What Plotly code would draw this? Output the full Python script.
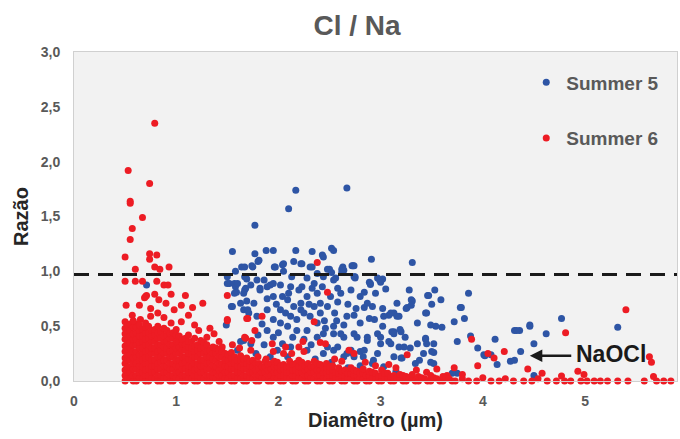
import plotly.graph_objects as go

# ---------------- data ----------------
title_text = "Cl / Na"
x_title = "Diamêtro (µm)"
y_title = "Razão"
series_names = ["Summer 5", "Summer 6"]
threshold = 0.97
x_ticks = [0, 1, 2, 3, 4, 5]
y_ticks = [0.0, 0.5, 1.0, 1.5, 2.0, 2.5, 3.0]
naocl_label = "NaOCl"
naocl_point = (4.46, 0.23)
naocl_text_pos = (5.25, 0.25)

summer5_points = [
    (0.71, 0.875), (2.67, 1.76), (2.17, 1.74), (2.10, 1.57), (1.77, 1.42),
    (1.55, 1.18), (1.77, 1.16), (1.88, 1.19), (1.95, 1.19), (2.17, 1.19), (2.33, 1.18),
    (2.52, 1.21), (2.54, 1.19), (2.91, 1.11), (2.44, 1.13), (2.15, 1.09), (2.04, 1.06),
    (1.80, 1.09), (1.75, 1.04), (1.64, 1.04), (1.67, 1.04), (1.96, 1.04), (2.23, 1.07),
    (2.33, 1.04), (2.50, 1.02), (2.63, 1.04), (2.74, 1.05), (2.99, 0.92), (3.02, 0.93),
    (2.89, 0.90), (1.74, 1.05), (1.52, 0.89), (1.57, 0.89), (1.58, 0.86), (1.67, 0.83),
    (1.59, 0.81), (1.73, 0.875), (1.67, 0.95), (1.69, 0.93), (2.43, 1.15), (3.31, 1.08),
    (2.72, 1.05), (2.62, 1.02), (2.62, 0.99), (2.48, 1.02), (2.52, 0.99), (2.75, 0.94),
    (2.90, 0.88), (3.00, 0.90), (3.28, 0.83), (3.53, 0.83), (3.86, 0.80), (3.47, 0.78),
    (3.59, 0.74), (3.16, 0.71), (3.30, 0.74), (3.26, 0.67), (2.84, 0.67), (2.92, 0.68),
    (3.02, 0.66), (3.78, 0.67), (3.44, 0.62), (3.08, 0.60), (3.16, 0.59), (2.74, 0.60),
    (3.72, 0.54), (3.82, 0.57), (3.36, 0.53), (3.49, 0.51), (3.54, 0.50), (3.60, 0.49),
    (3.02, 0.50), (2.89, 0.57), (2.64, 0.51), (2.54, 0.50), (4.31, 0.46), (4.36, 0.46),
    (4.46, 0.50), (4.62, 0.43), (4.77, 0.57), (5.32, 0.49), (4.12, 0.38), (3.88, 0.41),
    (3.75, 0.36), (4.50, 0.34), (4.37, 0.27), (4.27, 0.18), (4.31, 0.19), (4.14, 0.15),
    (4.01, 0.24), (3.95, 0.30), (3.44, 0.38), (3.45, 0.34), (3.29, 0.30), (3.38, 0.19),
    (3.52, 0.26), (3.52, 0.16), (3.13, 0.45), (3.20, 0.45), (2.97, 0.43), (3.08, 0.36),
    (3.18, 0.31), (3.23, 0.31), (3.00, 0.34), (2.97, 0.25), (3.13, 0.22), (3.20, 0.21),
    (3.34, 0.16), (2.92, 0.16), (3.75, 0.07), (4.50, 0.05), (2.54, 0.43), (2.64, 0.40),
    (2.77, 0.40), (2.44, 0.43), (2.58, 0.31), (2.71, 0.28), (2.80, 0.27), (2.87, 0.37),
    (2.64, 0.22), (2.73, 0.25), (2.83, 0.22), (3.31, 0.73), (3.46, 0.78), (3.25, 0.66),
    (3.30, 0.69), (3.50, 0.70), (3.79, 0.67), (3.45, 0.62), (3.13, 0.62), (3.18, 0.59),
    (3.19, 0.47), (3.11, 0.45), (3.24, 0.40), (3.44, 0.39), (3.52, 0.34), (3.36, 0.34),
    (3.42, 0.25), (3.21, 0.21), (3.49, 0.17), (3.50, 0.27), (4.02, 0.23), (4.08, 0.24),
    (4.33, 0.46), (4.46, 0.51), (3.70, 0.07), (3.15, 0.09), (1.81, 1.10), (2.05, 1.07),
    (1.97, 1.04), (2.22, 1.07), (2.31, 1.04), (2.73, 1.05), (1.68, 0.95), (1.79, 0.92),
    (1.86, 0.92), (2.05, 1.00), (2.13, 0.95), (2.28, 0.94), (2.38, 0.98), (2.56, 0.94),
    (2.75, 0.95), (2.90, 0.89), (2.97, 0.94), (1.82, 0.845), (1.92, 0.875), (2.02, 0.875),
    (2.12, 0.86), (2.23, 0.86), (2.33, 0.845), (2.43, 0.86), (2.58, 0.845), (2.71, 0.83),
    (2.84, 0.81), (1.68, 0.845), (1.55, 0.68), (1.50, 0.89), (1.60, 0.89), (1.66, 0.80),
    (1.76, 0.71), (1.66, 0.65), (1.71, 0.62), (1.79, 0.59), (1.69, 0.73), (1.82, 0.83),
    (1.89, 0.86), (1.95, 0.89), (1.89, 0.75), (1.95, 0.77), (2.04, 0.77), (2.09, 0.74),
    (1.89, 0.65), (2.02, 0.65), (2.15, 0.68), (2.22, 0.65), (2.07, 0.62), (2.12, 0.59),
    (2.18, 0.56), (2.25, 0.62), (1.95, 0.56), (2.02, 0.53), (2.09, 0.50), (1.89, 0.46),
    (1.95, 0.40), (2.04, 0.34), (2.18, 0.46), (2.28, 0.46), (2.38, 0.53), (2.31, 0.59),
    (2.41, 0.62), (2.48, 0.68), (2.38, 0.80), (2.51, 0.77), (2.61, 0.80), (2.35, 0.89),
    (2.44, 0.95), (2.54, 0.92), (2.64, 1.01), (2.74, 0.95), (2.80, 0.77), (2.87, 0.71),
    (2.67, 0.59), (2.80, 0.53), (2.94, 0.56), (3.03, 0.59), (3.10, 0.62), (2.61, 0.43),
    (2.74, 0.43), (2.87, 0.40), (3.00, 0.40), (3.10, 0.34), (3.13, 0.43), (2.38, 0.40),
    (2.48, 0.31), (2.54, 0.28), (2.67, 0.25), (2.74, 0.22), (2.84, 0.28), (2.93, 0.19),
    (3.03, 0.13), (1.99, 0.28), (2.09, 0.22), (2.18, 0.16), (2.28, 0.28), (1.73, 0.34),
    (1.66, 0.37), (1.60, 0.28), (2.22, 0.71), (2.28, 0.77), (2.35, 0.68), (2.41, 0.71),
    (1.57, 0.80), (1.63, 0.71), (1.70, 0.65), (1.54, 0.68), (1.49, 0.51), (1.63, 0.36),
    (1.98, 0.70), (2.10, 0.80), (2.20, 0.83), (2.30, 0.70), (2.45, 0.55), (2.55, 0.62),
    (2.58, 0.72), (2.14, 0.40), (2.25, 0.38), (2.32, 0.33), (2.44, 0.25), (1.84, 0.52),
    (1.80, 0.42), (1.86, 0.33), (2.00, 0.44), (2.12, 0.31), (2.36, 0.20), (2.52, 0.17),
    (2.68, 0.12), (2.80, 0.14), (1.92, 0.22), (1.78, 0.25), (2.95, 0.80), (3.05, 0.84),
    (2.68, 0.70), (2.76, 0.66), (2.57, 0.55), (2.46, 0.48), (1.50, 0.95), (1.58, 1.00),
]

# Summer 6: scattered points
summer6_points = [
    (0.79, 2.35), (0.53, 1.92), (0.74, 1.80), (0.55, 1.64), (0.55, 1.62), (0.67, 1.49),
    (0.57, 1.39), (0.55, 1.29), (0.50, 1.13), (0.74, 1.16), (0.81, 1.15), (0.74, 1.11),
    (0.60, 1.02), (0.79, 1.04), (0.84, 1.02), (0.93, 1.04), (0.50, 0.91), (0.60, 0.91),
    (0.67, 0.91), (0.81, 0.91), (0.88, 0.875), (0.92, 0.875), (0.79, 0.79), (0.95, 0.79),
    (1.09, 0.78), (0.71, 0.78), (0.69, 0.76), (1.50, 0.78), (2.38, 1.08), (2.48, 0.81),
    (1.84, 0.59), (1.69, 0.57), (1.50, 0.55), (1.77, 0.46), (2.35, 0.54), (2.24, 0.36),
    (2.41, 0.35), (1.68, 0.39), (1.74, 0.37), (1.73, 0.28), (1.94, 0.34), (1.95, 0.27),
    (2.07, 0.31), (2.05, 0.25), (2.13, 0.25), (2.20, 0.31), (2.25, 0.27), (2.46, 0.34),
    (2.69, 0.28), (2.74, 0.25), (3.08, 0.15), (3.89, 0.38), (3.26, 0.24), (4.05, 0.25),
    (4.21, 0.27), (4.11, 0.21), (3.95, 0.14), (3.72, 0.12), (3.80, 0.06), (4.44, 0.11),
    (4.58, 0.07), (5.40, 0.65), (4.81, 0.44), (5.63, 0.22), (5.65, 0.17), (4.93, 0.09),
    (4.99, 0.06), (5.67, 0.04), (4.77, 0.045), (4.63, 0.00), (4.72, 0.00), (4.80, 0.00),
    (4.86, 0.00), (4.96, 0.00), (5.09, 0.00), (5.15, 0.00), (5.32, 0.00), (5.42, 0.00),
    (5.58, 0.00), (5.84, 0.00), (5.02, 0.00), (5.22, 0.00), (5.70, 0.00), (5.77, 0.00),
    (0.70, 0.77), (1.26, 0.71), (0.51, 0.69), (0.64, 0.69), (0.75, 0.66), (0.83, 0.74),
    (0.90, 0.71), (0.98, 0.65), (1.05, 0.69), (1.16, 0.67), (0.82, 0.62), (0.95, 0.53),
    (1.05, 0.54), (1.18, 0.51), (1.37, 0.43), (1.50, 0.56), (1.70, 0.57), (1.67, 0.40),
    (0.57, 0.60), (0.65, 0.56), (0.75, 0.59), (0.62, 0.52), (0.88, 0.58), (1.12, 0.60),
    (1.22, 0.46), (1.30, 0.40), (1.42, 0.36), (1.33, 0.48), (1.45, 0.31), (1.55, 0.33),
    (1.62, 0.30), (1.80, 0.22), (1.88, 0.20), (2.55, 0.20), (2.62, 0.18), (2.85, 0.17),
    (2.95, 0.14), (3.15, 0.12), (3.35, 0.10), (3.45, 0.08), (3.55, 0.11), (3.65, 0.05),
]

# Summer 6: dense block, one diameter with its list of ratios
summer6_columns = [
    (0.50, [0.00, 0.05, 0.10, 0.16, 0.21, 0.27, 0.32, 0.38, 0.43, 0.48, 0.54]),
    (0.525, [0.03, 0.08, 0.13, 0.19, 0.24, 0.29, 0.35, 0.40, 0.46, 0.51]),
    (0.55, [0.02, 0.08, 0.13, 0.19, 0.24, 0.30, 0.35, 0.41, 0.46, 0.52]),
    (0.58, [0.00, 0.05, 0.11, 0.16, 0.21, 0.27, 0.33, 0.38, 0.43, 0.49, 0.55]),
    (0.61, [0.00, 0.05, 0.11, 0.16, 0.22, 0.27, 0.33, 0.38, 0.44, 0.49]),
    (0.64, [0.03, 0.08, 0.14, 0.19, 0.24, 0.30, 0.35, 0.41, 0.46, 0.51]),
    (0.67, [0.02, 0.08, 0.13, 0.19, 0.25, 0.30, 0.36, 0.41, 0.47]),
    (0.70, [0.00, 0.05, 0.10, 0.16, 0.21, 0.27, 0.33, 0.38, 0.44, 0.49, 0.53]),
    (0.73, [0.00, 0.05, 0.11, 0.16, 0.22, 0.28, 0.33, 0.39, 0.44, 0.50]),
    (0.76, [0.03, 0.08, 0.14, 0.19, 0.25, 0.30, 0.36, 0.41, 0.46]),
    (0.79, [0.02, 0.08, 0.14, 0.19, 0.25, 0.30, 0.36, 0.42, 0.47]),
    (0.82, [0.00, 0.05, 0.11, 0.16, 0.22, 0.27, 0.33, 0.39, 0.44, 0.50]),
    (0.85, [0.00, 0.05, 0.11, 0.17, 0.22, 0.28, 0.33, 0.39, 0.45]),
    (0.88, [0.03, 0.08, 0.14, 0.19, 0.25, 0.31, 0.36, 0.41, 0.48]),
    (0.91, [0.02, 0.08, 0.13, 0.19, 0.25, 0.30, 0.36, 0.42, 0.46]),
    (0.94, [0.00, 0.05, 0.11, 0.16, 0.22, 0.27, 0.33, 0.39, 0.43]),
    (0.97, [0.00, 0.05, 0.11, 0.16, 0.22, 0.28, 0.33, 0.39, 0.44]),
    (1.00, [0.03, 0.08, 0.14, 0.19, 0.25, 0.30, 0.36, 0.42, 0.47]),
    (1.03, [0.02, 0.08, 0.14, 0.19, 0.25, 0.31, 0.36, 0.41]),
    (1.06, [0.00, 0.05, 0.11, 0.16, 0.22, 0.28, 0.34, 0.38]),
    (1.09, [0.00, 0.05, 0.11, 0.17, 0.22, 0.28, 0.33, 0.39]),
    (1.12, [0.03, 0.08, 0.14, 0.20, 0.25, 0.31, 0.36, 0.42]),
    (1.15, [0.02, 0.08, 0.13, 0.19, 0.25, 0.30, 0.36]),
    (1.18, [0.00, 0.05, 0.10, 0.16, 0.22, 0.27, 0.32, 0.39]),
    (1.21, [0.00, 0.05, 0.11, 0.16, 0.22, 0.28, 0.33]),
    (1.24, [0.03, 0.08, 0.14, 0.19, 0.25, 0.30, 0.37]),
    (1.27, [0.02, 0.08, 0.14, 0.19, 0.25, 0.31, 0.35]),
    (1.30, [0.00, 0.05, 0.11, 0.16, 0.22, 0.27, 0.33]),
    (1.33, [0.00, 0.05, 0.11, 0.17, 0.22, 0.28]),
    (1.36, [0.03, 0.08, 0.14, 0.20, 0.25, 0.31]),
    (1.39, [0.02, 0.08, 0.13, 0.19, 0.25, 0.30]),
    (1.42, [0.00, 0.05, 0.10, 0.16, 0.22, 0.28]),
    (1.45, [0.00, 0.05, 0.11, 0.16, 0.22, 0.27]),
    (1.48, [0.03, 0.08, 0.14, 0.19, 0.25]),
    (1.51, [0.02, 0.08, 0.13, 0.19, 0.24]),
    (1.54, [0.00, 0.05, 0.11, 0.16, 0.21, 0.26]),
    (1.57, [0.00, 0.05, 0.11, 0.16, 0.22]),
    (1.60, [0.03, 0.08, 0.14, 0.19]),
    (1.63, [0.02, 0.08, 0.13, 0.19, 0.23]),
    (1.66, [0.00, 0.05, 0.11, 0.16, 0.20]),
    (1.69, [0.00, 0.05, 0.11, 0.16, 0.21]),
    (1.72, [0.03, 0.08, 0.14, 0.18]),
    (1.75, [0.02, 0.08, 0.13, 0.19]),
    (1.78, [0.00, 0.05, 0.10, 0.16]),
    (1.81, [0.00, 0.05, 0.11, 0.16]),
    (1.84, [0.03, 0.08, 0.13]),
    (1.87, [0.02, 0.08, 0.13, 0.18]),
    (1.90, [0.00, 0.05, 0.10, 0.15]),
    (1.93, [0.00, 0.05, 0.11, 0.16]),
    (1.96, [0.03, 0.08, 0.13, 0.18]),
    (1.99, [0.02, 0.08, 0.13, 0.17]),
    (2.02, [0.00, 0.05, 0.10, 0.14]),
    (2.05, [0.00, 0.05, 0.11, 0.15]),
    (2.08, [0.03, 0.08, 0.13]),
    (2.11, [0.02, 0.08, 0.13, 0.18]),
    (2.14, [0.00, 0.05, 0.10, 0.15]),
    (2.17, [0.00, 0.05, 0.10, 0.16]),
    (2.20, [0.03, 0.08, 0.13, 0.19]),
    (2.23, [0.02, 0.08, 0.13, 0.17]),
    (2.26, [0.00, 0.05, 0.10, 0.14]),
    (2.29, [0.00, 0.05, 0.11, 0.16]),
    (2.32, [0.03, 0.08, 0.13]),
    (2.35, [0.02, 0.08, 0.13, 0.18]),
    (2.38, [0.00, 0.05, 0.10, 0.16]),
    (2.41, [0.00, 0.05, 0.10, 0.15]),
    (2.44, [0.03, 0.08, 0.12]),
    (2.47, [0.02, 0.08, 0.12, 0.16]),
    (2.50, [0.00, 0.05, 0.09, 0.13]),
    (2.53, [0.00, 0.05, 0.10, 0.14]),
    (2.56, [0.03, 0.08]),
    (2.59, [0.02, 0.07, 0.12]),
    (2.62, [0.00, 0.05, 0.09]),
    (2.65, [0.00, 0.05, 0.10]),
    (2.68, [0.03, 0.07]),
    (2.71, [0.02, 0.07, 0.12]),
    (2.74, [0.00, 0.05, 0.10]),
    (2.77, [0.00, 0.05, 0.09]),
    (2.80, [0.03, 0.07]),
    (2.83, [0.02, 0.07, 0.11]),
    (2.86, [0.00, 0.05]),
    (2.89, [0.00, 0.05, 0.09]),
    (2.92, [0.03, 0.08]),
    (2.95, [0.02, 0.07]),
    (2.98, [0.00, 0.04]),
    (3.01, [0.00, 0.05, 0.10]),
    (3.04, [0.03, 0.07]),
    (3.07, [0.02, 0.07]),
    (3.10, [0.00, 0.04]),
    (3.13, [0.00, 0.05]),
    (3.16, [0.03]),
    (3.19, [0.02, 0.06]),
    (3.22, [0.00, 0.05]),
    (3.25, [0.00, 0.04]),
    (3.28, [0.03]),
    (3.31, [0.02, 0.06]),
    (3.34, [0.00]),
    (3.37, [0.00, 0.04]),
    (3.40, [0.03]),
    (3.43, [0.02]),
    (3.46, [0.00]),
    (3.49, [0.00, 0.05]),
    (3.52, [0.03]),
    (3.55, [0.02]),
    (3.58, [0.00]),
    (3.61, [0.00, 0.04]),
    (3.64, [0.03]),
    (3.67, [0.02]),
    (3.70, [0.00]),
    (3.73, [0.00]),
    (3.80, [0.02]),
    (3.86, [0.00]),
    (3.94, [0.00]),
    (4.00, [0.03]),
    (4.08, [0.00]),
    (4.16, [0.00]),
    (4.22, [0.02]),
    (4.30, [0.00]),
    (4.40, [0.00]),
    (4.48, [0.00]),
    (4.54, [0.02]),
]

# ---------------- build traces ----------------
s5_x = [p[0] for p in summer5_points]
s5_y = [p[1] for p in summer5_points]
s6_x = [p[0] for p in summer6_points]
s6_y = [p[1] for p in summer6_points]
for cx, ys in summer6_columns:
    for cy in ys:
        s6_x.append(cx)
        s6_y.append(cy)

BLUE = "#2e55a5"
RED = "#ed1c24"
GREY_TXT = "#595959"
DARK_TXT = "#262626"
FONT = "Liberation Sans, Arial, sans-serif"

fig = go.Figure()
fig.add_trace(go.Scatter(
    x=s5_x, y=s5_y, mode="markers", name=series_names[0], legendgroup="a",
    marker=dict(color=BLUE, size=7, line=dict(width=0)), cliponaxis=False,
))
fig.add_trace(go.Scatter(
    x=s6_x, y=s6_y, mode="markers", name=series_names[1], legendgroup="b",
    marker=dict(color=RED, size=7, line=dict(width=0)), cliponaxis=False,
))

fig.add_hline(y=threshold, line=dict(color="#1a1a1a", width=3, dash="15px,9px"), layer="above")

# NaOCl arrow + label
fig.add_annotation(
    x=naocl_point[0], y=naocl_point[1], ax=naocl_point[0] + 0.42, ay=naocl_point[1],
    axref="x", ayref="y", xref="x", yref="y", text="", showarrow=True,
    arrowhead=2, arrowsize=1, arrowwidth=2.5, arrowcolor="#1a1a1a", standoff=0,
)
fig.add_annotation(
    x=naocl_text_pos[0], y=naocl_text_pos[1], xref="x", yref="y", text=naocl_label,
    showarrow=False, font=dict(family=FONT, size=23, color="#1a1a1a", weight="bold"),
)

fig.update_layout(
    width=680, height=439,
    margin=dict(l=74, r=3, t=52, b=58),
    paper_bgcolor="white", plot_bgcolor="#f2f2f2",
    separators=",.",
    font=dict(family=FONT, color=GREY_TXT),
    title=dict(text=title_text, x=0.525, xanchor="center", y=0.943, yanchor="middle",
               xref="container", yref="container",
               font=dict(family=FONT, size=28, color=GREY_TXT, weight="bold")),
    showlegend=True,
    legend=dict(x=0.75, y=0.965, xanchor="left", yanchor="top", bgcolor="rgba(0,0,0,0)",
                tracegroupgap=28, font=dict(family=FONT, size=19, color=GREY_TXT, weight="bold")),
    xaxis=dict(range=[0, 5.9], tickvals=x_ticks, ticks="", showgrid=False, zeroline=False,
               showline=True, linecolor="#d0d0d0", linewidth=1, mirror=True,
               ticklabelstandoff=7,
               tickfont=dict(family=FONT, size=14, color=GREY_TXT, weight="bold"),
               title=dict(text=x_title, standoff=4,
                          font=dict(family=FONT, size=20, color=DARK_TXT, weight="bold"))),
    yaxis=dict(range=[0, 3], tickvals=y_ticks, tickformat=".1f", ticks="", showgrid=False,
               zeroline=False, showline=True, linecolor="#d0d0d0", linewidth=1, mirror=True,
               ticklabelstandoff=10,
               tickfont=dict(family=FONT, size=14, color=GREY_TXT, weight="bold"),
               title=dict(text=y_title, standoff=6,
                          font=dict(family=FONT, size=20, color=DARK_TXT, weight="bold"))),
)

fig.write_html("out.html")
